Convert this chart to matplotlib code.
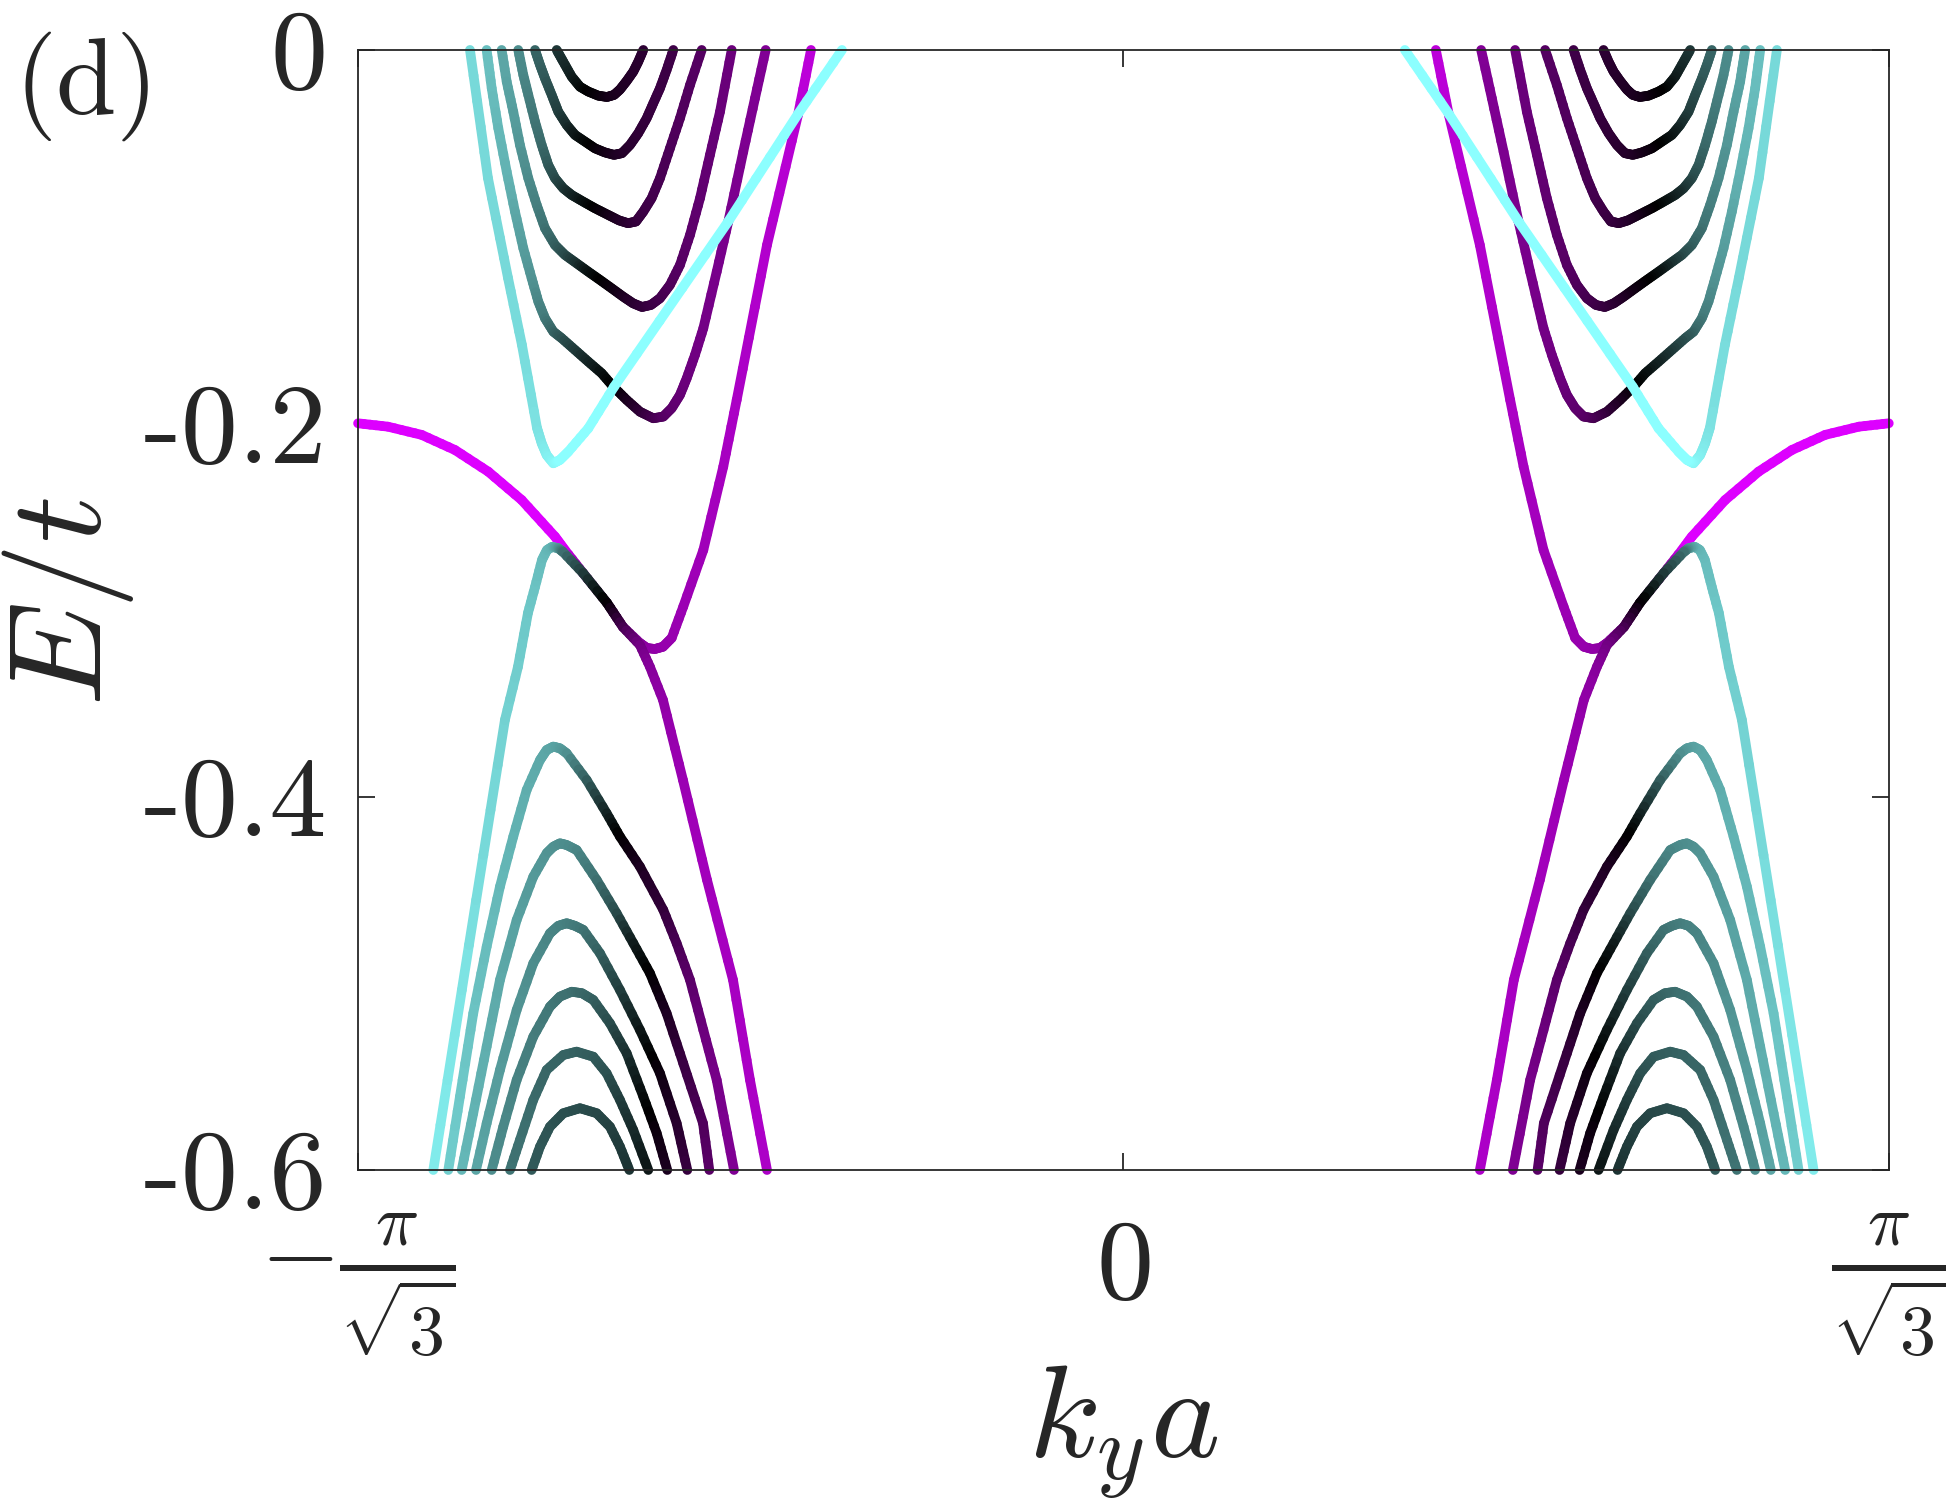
import numpy as np
import matplotlib
matplotlib.use('Agg')
import matplotlib.pyplot as plt
from matplotlib.collections import LineCollection
from matplotlib.colors import LinearSegmentedColormap, Normalize

plt.rcParams['mathtext.fontset'] = 'cm'

# ky*a in units of pi/sqrt(3), energy E/t, and a colour weight w per point
# (w = -1 light cyan, 0 black, +1 magenta). Left half only, the right half is its mirror.

# upper cyan V
u0_k = [-0.8538, -0.8303, -0.8041, -0.7859, -0.7662, -0.7601, -0.7536, -0.7449, -0.7362, -0.7253, -0.6992, -0.6656, -0.5167, -0.4252, -0.3677]
u0_e = [0, -0.0686, -0.1221, -0.1580, -0.2025, -0.2107, -0.2170, -0.2214, -0.2196, -0.2152, -0.2027, -0.1805, -0.0921, -0.0343, 0]
u0_w = [-0.85, -0.85, -0.85, -0.86, -0.88, -0.9, -0.93, -0.96, -1, -1, -1, -1, -1, -1, -1]

# upper bands, innermost (u1) to outermost (u5)
u1_k = [-0.7405, -0.7319, -0.7209, -0.7101, -0.6992, -0.6861, -0.6748, -0.6656, -0.6578, -0.6490, -0.6404, -0.6339, -0.6273]
u1_e = [0, -0.0063, -0.0143, -0.0197, -0.0223, -0.0245, -0.0252, -0.0241, -0.0212, -0.0166, -0.0116, -0.0063, 0]
u1_w = [-0.22, -0.18, -0.12, -0.06, 0.0, 0.04, 0.08, 0.11, 0.13, 0.15, 0.17, 0.18, 0.2]

u2_k = [-0.7688, -0.7623, -0.7558, -0.7470, -0.7384, -0.7274, -0.7166, -0.7035, -0.6905, -0.6774, -0.6656, -0.6552, -0.6447, -0.6339, -0.6229, -0.6143, -0.6055, -0.5968, -0.5881]
u2_e = [0, -0.0080, -0.0152, -0.0241, -0.0331, -0.0402, -0.0455, -0.0491, -0.0527, -0.0549, -0.0562, -0.0553, -0.0509, -0.0446, -0.0366, -0.0286, -0.0205, -0.0107, 0]
u2_w = [-0.4, -0.38, -0.35, -0.3, -0.25, -0.18, -0.1, -0.04, 0.02, 0.08, 0.12, 0.15, 0.18, 0.21, 0.23, 0.25, 0.26, 0.27, 0.28]

u3_k = [-0.7907, -0.7841, -0.7776, -0.7688, -0.7601, -0.7515, -0.7427, -0.7319, -0.7209, -0.7057, -0.6905, -0.6731, -0.6591, -0.6473, -0.6369, -0.6273, -0.6164, -0.6055, -0.5925, -0.5794, -0.5663, -0.5510]
u3_e = [0, -0.0134, -0.0241, -0.0384, -0.0509, -0.0616, -0.0687, -0.0741, -0.0777, -0.0813, -0.0848, -0.0884, -0.0913, -0.0928, -0.0919, -0.0866, -0.0794, -0.0687, -0.0527, -0.0366, -0.0188, 0]
u3_w = [-0.55, -0.53, -0.5, -0.46, -0.42, -0.36, -0.3, -0.22, -0.15, -0.07, 0.0, 0.08, 0.14, 0.19, 0.23, 0.26, 0.29, 0.32, 0.34, 0.36, 0.37, 0.38]

u4_k = [-0.8124, -0.8058, -0.7972, -0.7885, -0.7776, -0.7666, -0.7558, -0.7427, -0.7297, -0.7144, -0.6992, -0.6839, -0.6686, -0.6535, -0.6408, -0.6290, -0.6173, -0.6055, -0.5925, -0.5794, -0.5663, -0.5532, -0.5402, -0.5271, -0.5118]
u4_e = [0, -0.0170, -0.0331, -0.0509, -0.0687, -0.0830, -0.0955, -0.1045, -0.1098, -0.1143, -0.1188, -0.1232, -0.1277, -0.1322, -0.1357, -0.1377, -0.1366, -0.1330, -0.1259, -0.1152, -0.0991, -0.0794, -0.0562, -0.0331, 0]
u4_w = [-0.65, -0.64, -0.62, -0.59, -0.55, -0.5, -0.45, -0.38, -0.3, -0.2, -0.08, 0.0, 0.05, 0.12, 0.18, 0.22, 0.26, 0.3, 0.34, 0.38, 0.41, 0.43, 0.45, 0.47, 0.48]

u5_k = [-0.8320, -0.8254, -0.8168, -0.8058, -0.7950, -0.7841, -0.7732, -0.7645, -0.7558, -0.7449, -0.7340, -0.7166, -0.6992, -0.6817, -0.6665, -0.6490, -0.6317, -0.6143, -0.6012, -0.5902, -0.5794, -0.5706, -0.5598, -0.5489, -0.5314, -0.5163, -0.4967, -0.4814, -0.4674]
u5_e = [0, -0.0205, -0.0419, -0.0652, -0.0866, -0.1062, -0.1223, -0.1348, -0.1437, -0.1509, -0.1544, -0.1607, -0.1670, -0.1732, -0.1804, -0.1875, -0.1938, -0.1973, -0.1964, -0.1919, -0.1848, -0.1759, -0.1634, -0.1491, -0.1188, -0.0920, -0.0545, -0.0259, 0]
u5_w = [-0.75, -0.74, -0.72, -0.7, -0.66, -0.62, -0.58, -0.53, -0.48, -0.4, -0.33, -0.24, -0.15, -0.07, 0.0, 0.1, 0.2, 0.3, 0.37, 0.42, 0.45, 0.48, 0.5, 0.52, 0.54, 0.55, 0.56, 0.57, 0.58]

# band starting at -0.2 on the zone edge
a_k = [-1.0, -0.9610, -0.9169, -0.8734, -0.8299, -0.7862, -0.7427, -0.7297, -0.7061, -0.6748, -0.6539, -0.6317, -0.6225, -0.6121, -0.6016, -0.5902, -0.5751, -0.5489, -0.5228, -0.5053, -0.4657, -0.4252, -0.4082]
a_e = [-0.2, -0.2018, -0.2062, -0.2143, -0.2259, -0.2411, -0.2607, -0.2679, -0.2802, -0.2962, -0.3091, -0.3177, -0.3204, -0.3209, -0.3197, -0.3150, -0.2982, -0.2679, -0.2232, -0.1875, -0.1045, -0.0348, 0]
a_w = [1, 1, 1, 1, 1, 1, 1, 0.98, 0.5, 0.3, 0.5, 0.6, 0.63, 0.65, 0.67, 0.68, 0.7, 0.72, 0.75, 0.77, 0.8, 0.83, 0.85]

# lower bands, outermost (l1) to innermost (l7)
l1_k = [-0.9017, -0.8551, -0.8081, -0.7911, -0.7780, -0.7688, -0.7597, -0.7532, -0.7466, -0.7385, -0.7323, -0.7061, -0.6748, -0.6539, -0.6317, -0.6186, -0.6016, -0.5755, -0.5441, -0.5101, -0.4879, -0.4657]
l1_e = [-0.6, -0.4795, -0.3589, -0.3305, -0.3016, -0.2877, -0.2732, -0.2679, -0.2662, -0.2669, -0.2689, -0.2802, -0.2962, -0.3091, -0.3188, -0.3305, -0.3482, -0.3911, -0.4446, -0.4982, -0.5518, -0.6]
l1_w = [-0.92, -0.88, -0.82, -0.8, -0.78, -0.76, -0.74, -0.72, -0.7, -0.6, -0.45, -0.25, 0.0, 0.3, 0.5, 0.6, 0.65, 0.7, 0.73, 0.75, 0.77, 0.78]

l2_k = [-0.8821, -0.8669, -0.8495, -0.8320, -0.8146, -0.7972, -0.7797, -0.7623, -0.7536, -0.7449, -0.7362, -0.7274, -0.7013, -0.6752, -0.6578, -0.6317, -0.6012, -0.5837, -0.5663, -0.5489, -0.5314, -0.5088]
l2_e = [-0.6, -0.5607, -0.5161, -0.4804, -0.4482, -0.4214, -0.3964, -0.3804, -0.3750, -0.3732, -0.3741, -0.3768, -0.3911, -0.4089, -0.4214, -0.4375, -0.4607, -0.4786, -0.4982, -0.5250, -0.5518, -0.6]
l2_w = [-0.8, -0.78, -0.76, -0.74, -0.72, -0.7, -0.68, -0.66, -0.65, -0.64, -0.62, -0.58, -0.38, -0.15, 0.0, 0.12, 0.22, 0.32, 0.4, 0.48, 0.53, 0.58]

l3_k = [-0.8646, -0.8495, -0.8320, -0.8146, -0.7928, -0.7711, -0.7536, -0.7449, -0.7362, -0.7274, -0.7144, -0.6882, -0.6621, -0.6404, -0.6186, -0.5968, -0.5751, -0.5493, -0.5411]
l3_e = [-0.6, -0.5696, -0.5339, -0.4982, -0.4661, -0.4429, -0.4303, -0.4268, -0.4250, -0.4259, -0.4286, -0.4446, -0.4625, -0.4785, -0.4946, -0.5161, -0.5429, -0.5750, -0.6]
l3_w = [-0.72, -0.7, -0.68, -0.66, -0.63, -0.6, -0.58, -0.57, -0.56, -0.55, -0.53, -0.45, -0.3, -0.12, 0.0, 0.12, 0.25, 0.35, 0.4]

l4_k = [-0.8459, -0.8320, -0.8146, -0.7928, -0.7711, -0.7493, -0.7384, -0.7274, -0.7166, -0.7057, -0.6839, -0.6578, -0.6317, -0.6055, -0.5837, -0.5698]
l4_e = [-0.6, -0.5750, -0.5464, -0.5143, -0.4893, -0.4732, -0.4692, -0.4678, -0.4692, -0.4714, -0.4839, -0.5036, -0.5250, -0.5482, -0.5750, -0.6]
l4_w = [-0.65, -0.63, -0.61, -0.58, -0.55, -0.52, -0.51, -0.5, -0.48, -0.46, -0.38, -0.25, -0.1, 0.05, 0.17, 0.25]

l5_k = [-0.8254, -0.8103, -0.7928, -0.7711, -0.7493, -0.7362, -0.7209, -0.7074, -0.6927, -0.6709, -0.6490, -0.6273, -0.6098, -0.5960]
l5_e = [-0.6, -0.5768, -0.5518, -0.5286, -0.5125, -0.5071, -0.5045, -0.5053, -0.5089, -0.5214, -0.5375, -0.5607, -0.5803, -0.6]
l5_w = [-0.55, -0.53, -0.51, -0.49, -0.47, -0.45, -0.44, -0.41, -0.38, -0.3, -0.2, -0.05, 0.05, 0.12]

l6_k = [-0.8015, -0.7885, -0.7711, -0.7536, -0.7319, -0.7144, -0.6927, -0.6752, -0.6578, -0.6404, -0.6208]
l6_e = [-0.6, -0.5839, -0.5625, -0.5464, -0.5384, -0.5366, -0.5393, -0.5482, -0.5625, -0.5786, -0.6]
l6_w = [-0.45, -0.44, -0.42, -0.4, -0.39, -0.38, -0.36, -0.32, -0.25, -0.17, -0.08]

l7_k = [-0.7732, -0.7623, -0.7493, -0.7319, -0.7101, -0.6882, -0.6709, -0.6578, -0.6456]
l7_e = [-0.6, -0.5875, -0.5768, -0.5696, -0.5669, -0.5696, -0.5768, -0.5875, -0.6]
l7_w = [-0.35, -0.34, -0.33, -0.31, -0.3, -0.28, -0.26, -0.23, -0.2]

x_ticks = [-1, 0, 1]
x_labels = [r'$-\frac{\pi}{\sqrt{3}}$', r'$0$', r'$\frac{\pi}{\sqrt{3}}$']
y_ticks = [-0.6, -0.4, -0.2, 0]
y_labels = ['-0.6', '-0.4', '-0.2', '0']

cmap = LinearSegmentedColormap.from_list('cbm', ['#8cffff', '#000000', '#dd00ff'])
norm = Normalize(-1, 1)
ink = '#262626'


def draw_band(ax, k, e, w, sign):
    k = sign * np.asarray(k, float)
    e = np.asarray(e, float)
    w = np.asarray(w, float)
    segs, vals = [], []
    # cut every straight piece in short bits so the colour runs smoothly
    for i in range(len(k) - 1):
        t = np.linspace(0, 1, 6)
        xs = k[i] + t * (k[i + 1] - k[i])
        ys = e[i] + t * (e[i + 1] - e[i])
        ws = w[i] + t * (w[i + 1] - w[i])
        for j in range(len(t) - 1):
            segs.append([(xs[j], ys[j]), (xs[j + 1], ys[j + 1])])
            vals.append(0.5 * (ws[j] + ws[j + 1]))
    lc = LineCollection(segs, cmap=cmap, norm=norm, linewidths=7,
                        capstyle='round', joinstyle='round', clip_on=False)
    lc.set_array(np.array(vals))
    ax.add_collection(lc)


fig = plt.figure(figsize=(19.46, 15), dpi=100)
ax = fig.add_axes([0.184, 0.22, 0.7866, 0.7467])

bands = [
    (a_k, a_e, a_w),
    (u1_k, u1_e, u1_w), (u2_k, u2_e, u2_w), (u3_k, u3_e, u3_w),
    (u4_k, u4_e, u4_w), (u5_k, u5_e, u5_w),
    (l7_k, l7_e, l7_w), (l6_k, l6_e, l6_w), (l5_k, l5_e, l5_w),
    (l4_k, l4_e, l4_w), (l3_k, l3_e, l3_w), (l2_k, l2_e, l2_w),
    (l1_k, l1_e, l1_w),
    (u0_k, u0_e, u0_w),
]
for k, e, w in bands:
    draw_band(ax, k, e, w, 1)
    draw_band(ax, k, e, w, -1)

ax.set_xlim(-1, 1)
ax.set_ylim(-0.6, 0)
ax.set_xticks(x_ticks)
ax.set_xticklabels(x_labels, fontsize=82, color=ink)
# the fractions are set a bit smaller than the plain zero
for i in (0, 2):
    ax.get_xticklabels()[i].set_fontsize(74)
ax.set_yticks(y_ticks)
ax.set_yticklabels(y_labels, fontfamily='cmr10', fontsize=82, color=ink)
ax.tick_params(direction='in', length=12, width=1.3, top=True, right=True, color=ink)
ax.tick_params(axis='y', pad=22)
ax.tick_params(axis='x', pad=30)
for sp in ax.spines.values():
    sp.set_color(ink)
    sp.set_linewidth(1.3)

fig.text(0.0077, 0.979, '(d)', fontfamily='cmr10', fontsize=78, color=ink, ha='left', va='top')
fig.text(0.035, 0.599, '$E/t$', fontsize=95, color=ink, rotation=90, ha='center', va='center')
fig.text(0.5773, 0.045, '$k_y a$', fontsize=95, color=ink, ha='center', va='center')

fig.savefig('out.png', dpi=100)
